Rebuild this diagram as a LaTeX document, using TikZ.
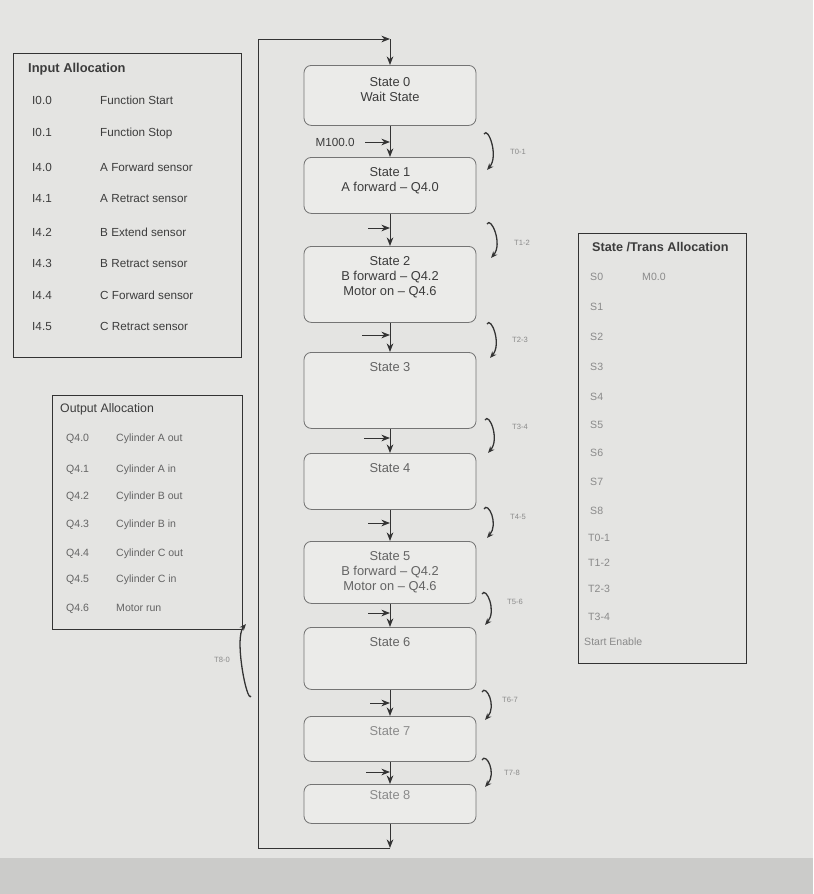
\documentclass[tikz,border=0pt]{standalone}
\usepackage{fontspec}
\setmainfont{Liberation Sans}
\usetikzlibrary{arrows.meta,positioning}
\definecolor{paperFill}{HTML}{E4E4E2}
\definecolor{floorFill}{HTML}{CBCBC9}
\definecolor{stateFill}{HTML}{EBEBE9}
\definecolor{lineStroke}{HTML}{333333}
\definecolor{boxStroke}{HTML}{747474}
\definecolor{darkText}{HTML}{3C3C3C}
\definecolor{midText}{HTML}{646464}
\definecolor{paleText}{HTML}{8A8A8A}
\begin{document}
\begin{tikzpicture}[x=0.3mm,y=-0.3mm,
  font=\fontsize{10}{12}\selectfont,>={Stealth[length=2.6mm,width=2mm]},
  panel/.style={rectangle,draw=lineStroke,line width=.8pt,anchor=north west,inner sep=0pt},
  statebox/.style={rectangle,rounded corners=2.2mm,draw=boxStroke,line width=.7pt,fill=stateFill,minimum width=51.6mm,anchor=north,inner sep=0pt},
  statetxt/.style={anchor=north,align=center,inner sep=0pt,yshift=-3mm,text=darkText,font=\fontsize{11}{13}\selectfont},
  alloc/.style={anchor=base west,inner sep=0pt,text=darkText},
  outalloc/.style={anchor=base west,inner sep=0pt,text=midText,font=\fontsize{9}{11}\selectfont},
  stalloc/.style={anchor=base west,inner sep=0pt,text=paleText,font=\fontsize{9}{10}\selectfont},
  link/.style={->,line width=.8pt,draw=lineStroke},
  feed/.style={->,line width=.8pt,draw=lineStroke},
  curl/.style={->,line width=1.1pt,draw=lineStroke,>={Stealth[length=2mm,width=1.6mm]}},
  tname/.style={anchor=center,inner sep=0pt,text=paleText,font=\fontsize{6.5}{7}\selectfont}
]
\path[use as bounding box,fill=paperFill] (0,0) rectangle (813,894);
\fill[floorFill] (0,858) rectangle (813,894);
% Allocation tables on both sides, the state chain runs down the middle and loops back on the left.
\node[panel,minimum width=68.4mm,minimum height=91.2mm] (inpanel) at (13,53) {};
\node[alloc,font=\bfseries\fontsize{11}{13}\selectfont] (intitle) at (28,72) {Input Allocation};
\node[alloc] (i00) at (32,104) {I0.0};  \node[alloc] (i00t) at (100,104) {Function Start};
\node[alloc] (i01) at (32,136) {I0.1};  \node[alloc] (i01t) at (100,136) {Function Stop};
\node[alloc] (i40) at (32,171) {I4.0};  \node[alloc] (i40t) at (100,171) {A Forward sensor};
\node[alloc] (i41) at (32,202) {I4.1};  \node[alloc] (i41t) at (100,202) {A Retract sensor};
\node[alloc] (i42) at (32,236) {I4.2};  \node[alloc] (i42t) at (100,236) {B Extend sensor};
\node[alloc] (i43) at (32,267) {I4.3};  \node[alloc] (i43t) at (100,267) {B Retract sensor};
\node[alloc] (i44) at (32,299) {I4.4};  \node[alloc] (i44t) at (100,299) {C Forward sensor};
\node[alloc] (i45) at (32,330) {I4.5};  \node[alloc] (i45t) at (100,330) {C Retract sensor};

\node[panel,minimum width=57mm,minimum height=70.2mm] (outpanel) at (52,395) {};
\node[alloc,font=\fontsize{10.5}{12}\selectfont] (outtitle) at (60,412) {Output Allocation};
\node[outalloc] (q40) at (66,441) {Q4.0};  \node[outalloc] (q40t) at (116,441) {Cylinder A out};
\node[outalloc] (q41) at (66,472) {Q4.1};  \node[outalloc] (q41t) at (116,472) {Cylinder A in};
\node[outalloc] (q42) at (66,499) {Q4.2};  \node[outalloc] (q42t) at (116,499) {Cylinder B out};
\node[outalloc] (q43) at (66,527) {Q4.3};  \node[outalloc] (q43t) at (116,527) {Cylinder B in};
\node[outalloc] (q44) at (66,556) {Q4.4};  \node[outalloc] (q44t) at (116,556) {Cylinder C out};
\node[outalloc] (q45) at (66,582) {Q4.5};  \node[outalloc] (q45t) at (116,582) {Cylinder C in};
\node[outalloc] (q46) at (66,611) {Q4.6};  \node[outalloc] (q46t) at (116,611) {Motor run};

\node[panel,minimum width=50.4mm,minimum height=129mm] (stpanel) at (578,233) {};
\node[alloc,font=\bfseries\fontsize{10.8}{12}\selectfont] (sttitle) at (592,251) {State /Trans Allocation};
\node[stalloc] (a0) at (590,280) {S0};  \node[stalloc] (a0t) at (642,280) {M0.0};
\node[stalloc] (a1) at (590,310) {S1};
\node[stalloc] (a2) at (590,340) {S2};
\node[stalloc] (a3) at (590,370) {S3};
\node[stalloc] (a4) at (590,400) {S4};
\node[stalloc] (a5) at (590,428) {S5};
\node[stalloc] (a6) at (590,456) {S6};
\node[stalloc] (a7) at (590,485) {S7};
\node[stalloc] (a8) at (590,514) {S8};
\node[stalloc] (b01) at (588,541) {T0-1};
\node[stalloc] (b12) at (588,566) {T1-2};
\node[stalloc] (b23) at (588,592) {T2-3};
\node[stalloc] (b34) at (588,620) {T3-4};
\node[stalloc] (ben) at (584,645) {Start Enable};

\node[statebox,minimum height=18mm,label={[statetxt,yshift=-0.6mm]north:{State 0\\Wait State}}] (s0) at (390,65) {};
\node[statebox,minimum height=16.8mm,label={[statetxt]north:{State 1\\A forward -- Q4.0}}] (s1) at (390,157) {};
\node[statebox,minimum height=22.8mm,label={[statetxt]north:{State 2\\B forward -- Q4.2\\Motor on -- Q4.6}}] (s2) at (390,246) {};
\node[statebox,minimum height=22.8mm,label={[statetxt,text=midText]north:State 3}] (s3) at (390,352) {};
\node[statebox,minimum height=16.8mm,label={[statetxt,text=midText]north:State 4}] (s4) at (390,453) {};
\node[statebox,minimum height=18.6mm,label={[statetxt,text=midText]north:{State 5\\B forward -- Q4.2\\Motor on -- Q4.6}}] (s5) at (390,541) {};
\node[statebox,minimum height=18.6mm,label={[statetxt,text=midText]north:State 6}] (s6) at (390,627) {};
\node[statebox,minimum height=13.5mm,label={[statetxt,text=paleText]north:State 7}] (s7) at (390,716) {};
\node[statebox,minimum height=11.7mm,label={[statetxt,text=paleText,yshift=1.2mm]north:State 8}] (s8) at (390,784) {};

\draw[link] (s0.south) -- (s1.north);
\draw[link] (s1.south) -- (s2.north);
\draw[link] (s2.south) -- (s3.north);
\draw[link] (s3.south) -- (s4.north);
\draw[link] (s4.south) -- (s5.north);
\draw[link] (s5.south) -- (s6.north);
\draw[link] (s6.south) -- (s7.north);
\draw[link] (s7.south) -- (s8.north);

\node[alloc,anchor=east] (m100) at (355,142) {M100.0};
\coordinate (in1) at (365,142);
\coordinate (in2) at (368,228);
\coordinate (in3) at (362,335);
\coordinate (in4) at (364,438);
\coordinate (in5) at (368,523);
\coordinate (in6) at (368,613);
\coordinate (in7) at (370,703);
\coordinate (in8) at (366,772);
\draw[feed] (in1) -- (in1 -| s1.north);
\draw[feed] (in2) -- (in2 -| s2.north);
\draw[feed] (in3) -- (in3 -| s3.north);
\draw[feed] (in4) -- (in4 -| s4.north);
\draw[feed] (in5) -- (in5 -| s5.north);
\draw[feed] (in6) -- (in6 -| s6.north);
\draw[feed] (in7) -- (in7 -| s7.north);
\draw[feed] (in8) -- (in8 -| s8.north);

\coordinate (looptl) at (258,39);
\coordinate (loopbl) at (258,848);
\draw[link] (s8.south) -- (s8.south |- loopbl);
\draw[link] (s8.south |- loopbl) -- (loopbl) -- (looptl) -- (s0.north |- looptl);
\draw[link] (s0.north |- looptl) -- (s0.north);

\node[tname] (t01) at (518,152) {T0-1};
\node[tname] (t12) at (522,243) {T1-2};
\node[tname] (t23) at (520,340) {T2-3};
\node[tname] (t34) at (520,427) {T3-4};
\node[tname] (t45) at (518,517) {T4-5};
\node[tname] (t56) at (515,602) {T5-6};
\node[tname] (t67) at (510,700) {T6-7};
\node[tname] (t78) at (512,773) {T7-8};
\node[tname] (t80) at (222,660) {T8-0};
\draw[curl] (484,134) .. controls +(4,-8) and +(12,-14) .. (487,170);
\draw[curl] (487,224) .. controls +(4,-8) and +(12,-14) .. (491,258);
\draw[curl] (487,324) .. controls +(4,-8) and +(12,-14) .. (490,358);
\draw[curl] (485,420) .. controls +(4,-8) and +(12,-14) .. (488,453);
\draw[curl] (484,509) .. controls +(4,-8) and +(12,-14) .. (487,538);
\draw[curl] (482,594) .. controls +(4,-8) and +(12,-14) .. (485,625);
\draw[curl] (482,692) .. controls +(4,-8) and +(12,-14) .. (485,720);
\draw[curl] (482,760) .. controls +(4,-8) and +(12,-14) .. (485,787);
\draw[curl] (251,696) .. controls +(-4,8) and +(-12,14) .. (246,624);
\end{tikzpicture}
\end{document}
